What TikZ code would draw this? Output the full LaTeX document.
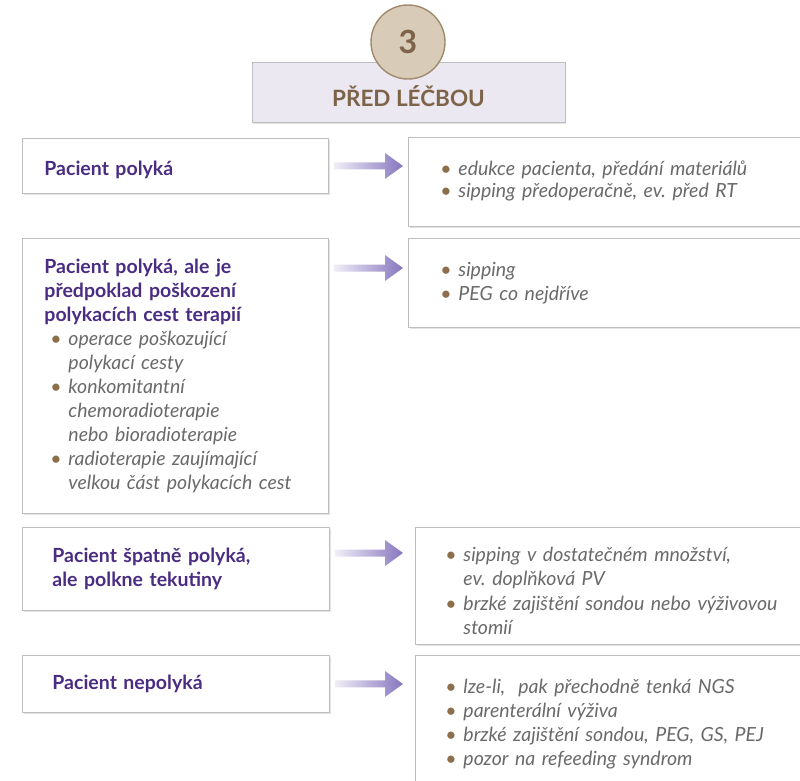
\documentclass[tikz,border=0pt]{standalone}
\usepackage{fontspec}
\setmainfont{Lato}
\usetikzlibrary{calc,shadows,positioning}

\definecolor{headpurple}{HTML}{4A2C82}
\definecolor{bodygray}{HTML}{6A6A6A}
\definecolor{dotbrown}{HTML}{8C6E4A}
\definecolor{boxgray}{HTML}{BEBEBE}
\definecolor{titlefill}{HTML}{ECE8F2}
\definecolor{titlebrown}{HTML}{7D6449}
\definecolor{circlefill}{HTML}{D8CCB9}
\definecolor{circledraw}{HTML}{A08A6C}
\definecolor{arrowdark}{HTML}{8676BE}
\definecolor{arrowlight}{HTML}{F1EEF7}

% bullet line with hanging indent, optional left offset
\newcommand\bul[2][0pt]{\par\hangindent=\dimexpr#1+18pt\relax\hangafter=1\noindent
  \makebox[\dimexpr#1+18pt\relax][l]{\hspace*{#1}\textcolor{dotbrown}{\textbullet}}%
  {\itshape\color{bodygray}#2}\par}
\newcommand\head[1]{{\bfseries\color{headpurple}#1}}
\newcommand\shiftdown[2]{\raisebox{-#1}[\height][\depth]{#2}}
\newcommand\padbottom[1]{\par\nointerlineskip\noindent\rule{0pt}{#1}}

% shaded arrow between two coordinates
\newcommand\flowarrow[2]{%
  \shade[left color=arrowlight, right color=arrowdark]
    ($(#1)+(0,3.5)$) -- ($(#2)+(-18,3.5)$) -- ($(#2)+(-18,13)$) -- (#2)
    -- ($(#2)+(-18,-13)$) -- ($(#2)+(-18,-3.5)$) -- ($(#1)+(0,-3.5)$) -- cycle;}

\begin{document}
\frenchspacing
\begin{tikzpicture}[x=1pt,y=-1pt,
    box/.style={draw=boxgray, line width=0.9pt, fill=white, anchor=north west,
      align=left, inner ysep=0pt,
      drop shadow={opacity=0.22, shadow xshift=1.2pt, shadow yshift=-1.6pt},
      font=\fontsize{19.5}{24}\selectfont},
    leftbox/.style={box, inner xsep=22pt, text width=262pt},
    rightbox/.style={box, inner xsep=32pt, text width=365pt}]
\useasboundingbox (0,0) rectangle (800,780);

% header
\node[draw=boxgray, line width=0.9pt, fill=titlefill,
  drop shadow={opacity=0.22, shadow xshift=1.2pt, shadow yshift=-1.6pt},
  minimum width=313pt, minimum height=60pt,
  font=\fontsize{22.5}{26}\selectfont\bfseries, text=titlebrown]
  (title) at (408.5,92) {\shiftdown{4pt}{PŘED LÉČBOU}};
\node[circle, draw=circledraw, line width=1.4pt, fill=circlefill,
  minimum size=74pt, font=\fontsize{32}{34}\selectfont\bfseries, text=titlebrown]
  (step3) at (408,42) {3};

% left column
\node[leftbox, minimum height=55pt] (L1) at (22,138) {\head{\shiftdown{4pt}{Pacient polyká}}};
\node[leftbox, minimum height=275pt] (L2) at (22,238) {%
  \head{Pacient polyká, ale je\\ předpoklad poškození\\ polykacích cest terapií}
  \bul[6pt]{operace poškozující\newline polykací cesty}
  \bul[6pt]{konkomitantní\newline chemoradioterapie\newline nebo bioradioterapie}
  \bul[6pt]{radioterapie zaujímající\newline velkou část polykacích cest}};
\node[leftbox, inner xsep=30pt, text width=247pt, minimum height=83pt] (L3) at (22,527)
  {\head{Pacient špatně polyká,\\ ale polkne tekutiny}};
\node[leftbox, inner xsep=30pt, text width=247pt, minimum height=57pt] (L4) at (22,655)
  {\head{Pacient nepolyká}};

% right column
\node[rightbox, minimum height=89pt, font=\fontsize{19.5}{22}\selectfont] (R1) at (408,137) {%
  \bul{edukce pacienta, předání materiálů}
  \bul{sipping předoperačně, ev. před RT}\padbottom{10pt}};
\node[rightbox, minimum height=89pt] (R2) at (408,238) {%
  \bul{sipping}
  \bul{PEG co nejdříve}\padbottom{10pt}};
\node[rightbox, inner xsep=30pt, text width=360pt, minimum height=117pt,
  font=\fontsize{19.5}{24.5}\selectfont] (R3) at (415,527) {%
  \bul{sipping v dostatečném množství,\newline ev. doplňková PV}
  \bul{brzké zajištění sondou nebo výživovou\newline stomií}};
\node[rightbox, inner xsep=30pt, text width=360pt, minimum height=140pt] (R4) at (415,655) {%
  \bul{lze-li,\ \ pak přechodně tenká NGS}
  \bul{parenterální výživa}
  \bul{brzké zajištění sondou, PEG, GS, PEJ}
  \bul{pozor na refeeding syndrom}\padbottom{12pt}};

% arrows
\coordinate (a1) at ([xshift=5pt]L1.east);
\coordinate (b1) at ([xshift=-5pt]R1.west |- a1);
\coordinate (a2) at ([xshift=5pt,yshift=-30pt]L2.north east);
\coordinate (b2) at ([xshift=-5pt]R2.west |- a2);
\coordinate (a3) at ([xshift=5pt,yshift=-26pt]L3.north east);
\coordinate (b3) at ([xshift=-12pt]R3.west |- a3);
\coordinate (a4) at ([xshift=5pt]L4.east);
\coordinate (b4) at ([xshift=-12pt]R4.west |- a4);
\foreach \i in {1,...,4} {\flowarrow{a\i}{b\i}}
\end{tikzpicture}
\end{document}
